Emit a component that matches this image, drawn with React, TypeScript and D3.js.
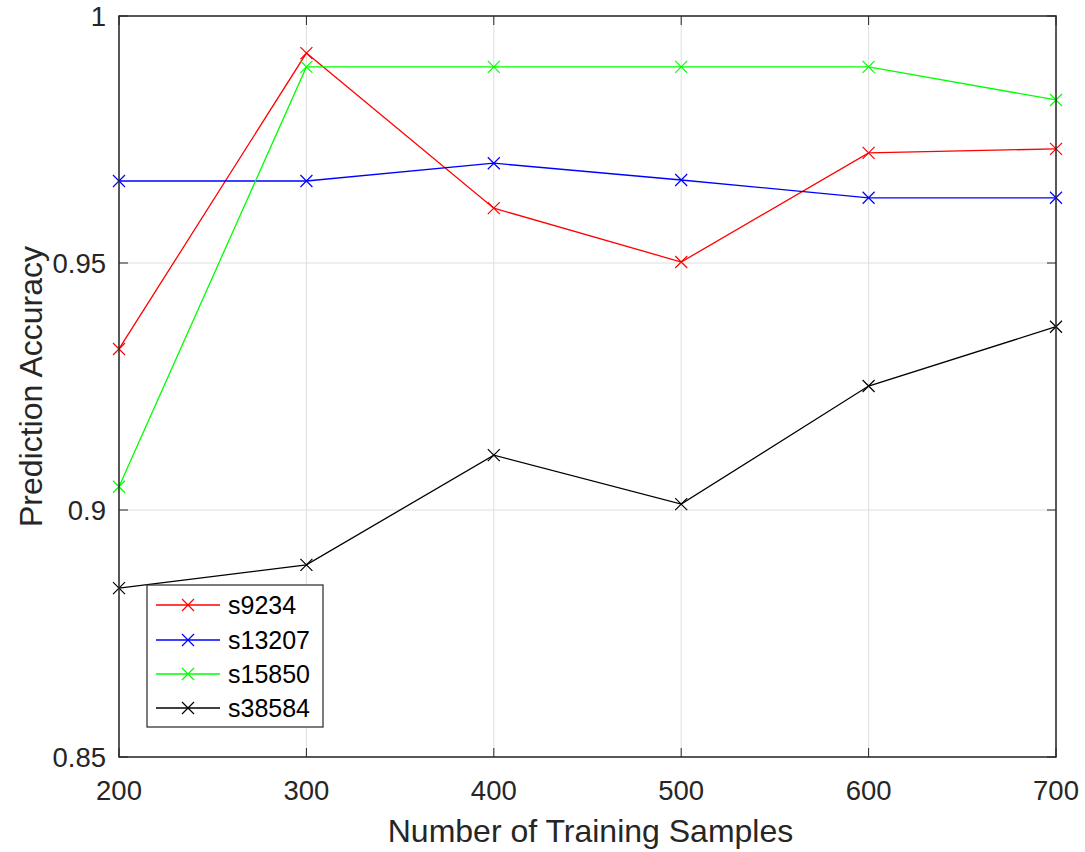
import React from "react";
import * as d3 from "d3";

const samples = [200, 300, 400, 500, 600, 700];
const seriesNames = ["s9234", "s13207", "s15850", "s38584"];
const s9234 = [0.9326, 0.9925, 0.9611, 0.9502, 0.9723, 0.9731];
const s13207 = [0.9666, 0.9666, 0.9702, 0.9668, 0.9632, 0.9632];
const s15850 = [0.9047, 0.9897, 0.9897, 0.9897, 0.9897, 0.983];
const s38584 = [0.8842, 0.8889, 0.9111, 0.9012, 0.9251, 0.9371];
const seriesColors = ["#ff0000", "#0000ff", "#00ff00", "#000000"];
const xTicks = [200, 300, 400, 500, 600, 700];
const yTicks = [0.85, 0.9, 0.95, 1];
const yTickLabels = ["0.85", "0.9", "0.95", "1"];

const W = 1085;
const H = 852;
const L = 119, R = 1056, T = 16, B = 757;
const FONT = "'Liberation Sans', Arial, Helvetica, sans-serif";
const AX = "#262626";

export default function App() {
  const x = d3.scaleLinear().domain([200, 700]).range([L, R]);
  const y = d3.scaleLinear().domain([0.85, 1]).range([B, T]);
  const allSeries = [s9234, s13207, s15850, s38584];
  const line = d3
    .line<number>()
    .x((_, i) => x(samples[i]))
    .y((d) => y(d));
  const ms = 6;
  const tick = 9;
  const cross = (cx: number, cy: number, color: string, key: string, s = ms) => (
    <path
      key={key}
      d={`M${cx - s},${cy - s}L${cx + s},${cy + s}M${cx - s},${cy + s}L${cx + s},${cy - s}`}
      stroke={color}
      strokeWidth={1.2}
      fill="none"
    />
  );
  const legX = 147, legY = 585, legW = 176, legH = 142;
  const rowY = [605, 640, 674, 708];
  return (
    <svg
      width={W}
      height={H}
      style={{ position: "absolute", left: 0, top: 0, background: "#fff" }}
      fontFamily={FONT}
    >
      <rect x={0} y={0} width={W} height={H} fill="#fff" />
      {/* grid */}
      {xTicks.map((t) => (
        <line key={"gx" + t} x1={x(t)} x2={x(t)} y1={T} y2={B} stroke="#dedede" strokeWidth={1} />
      ))}
      {yTicks.map((t) => (
        <line key={"gy" + t} x1={L} x2={R} y1={y(t)} y2={y(t)} stroke="#dedede" strokeWidth={1} />
      ))}
      {/* ticks */}
      {xTicks.map((t) => (
        <g key={"tx" + t}>
          <line x1={x(t)} x2={x(t)} y1={B} y2={B - tick} stroke={AX} strokeWidth={1} />
          <line x1={x(t)} x2={x(t)} y1={T} y2={T + tick} stroke={AX} strokeWidth={1} />
          <text x={x(t)} y={800} textAnchor="middle" fontSize={27.5} fill={AX}>
            {t}
          </text>
        </g>
      ))}
      {yTicks.map((t, i) => (
        <g key={"ty" + t}>
          <line x1={L} x2={L + tick} y1={y(t)} y2={y(t)} stroke={AX} strokeWidth={1} />
          <line x1={R} x2={R - tick} y1={y(t)} y2={y(t)} stroke={AX} strokeWidth={1} />
          <text x={106} y={y(t)} dy="0.36em" textAnchor="end" fontSize={27.5} fill={AX}>
            {yTickLabels[i]}
          </text>
        </g>
      ))}
      {/* series */}
      {allSeries.map((s, k) => (
        <g key={"s" + k}>
          <path d={line(s) || ""} fill="none" stroke={seriesColors[k]} strokeWidth={1.3} />
          {s.map((v, i) => cross(x(samples[i]), y(v), seriesColors[k], `m${k}-${i}`))}
        </g>
      ))}
      {/* box */}
      <rect x={L} y={T} width={R - L} height={B - T} fill="none" stroke={AX} strokeWidth={1.5} />
      {/* legend */}
      <rect x={legX} y={legY} width={legW} height={legH} fill="#fff" stroke={AX} strokeWidth={1.2} />
      {seriesNames.map((n, k) => (
        <g key={"l" + n}>
          <line x1={156} x2={220} y1={rowY[k]} y2={rowY[k]} stroke={seriesColors[k]} strokeWidth={1.3} />
          {cross(188, rowY[k], seriesColors[k], "lm" + k)}
          <text x={228} y={rowY[k]} dy="0.36em" fontSize={25} fill="#000">
            {n}
          </text>
        </g>
      ))}
      {/* axis labels */}
      <text x={(L + R) / 2 + 3} y={842} textAnchor="middle" fontSize={32} fill={AX}>
        Number of Training Samples
      </text>
      <text
        transform={`translate(42, ${(T + B) / 2}) rotate(-90)`}
        textAnchor="middle"
        fontSize={32}
        fill={AX}
      >
        Prediction Accuracy
      </text>
    </svg>
  );
}
